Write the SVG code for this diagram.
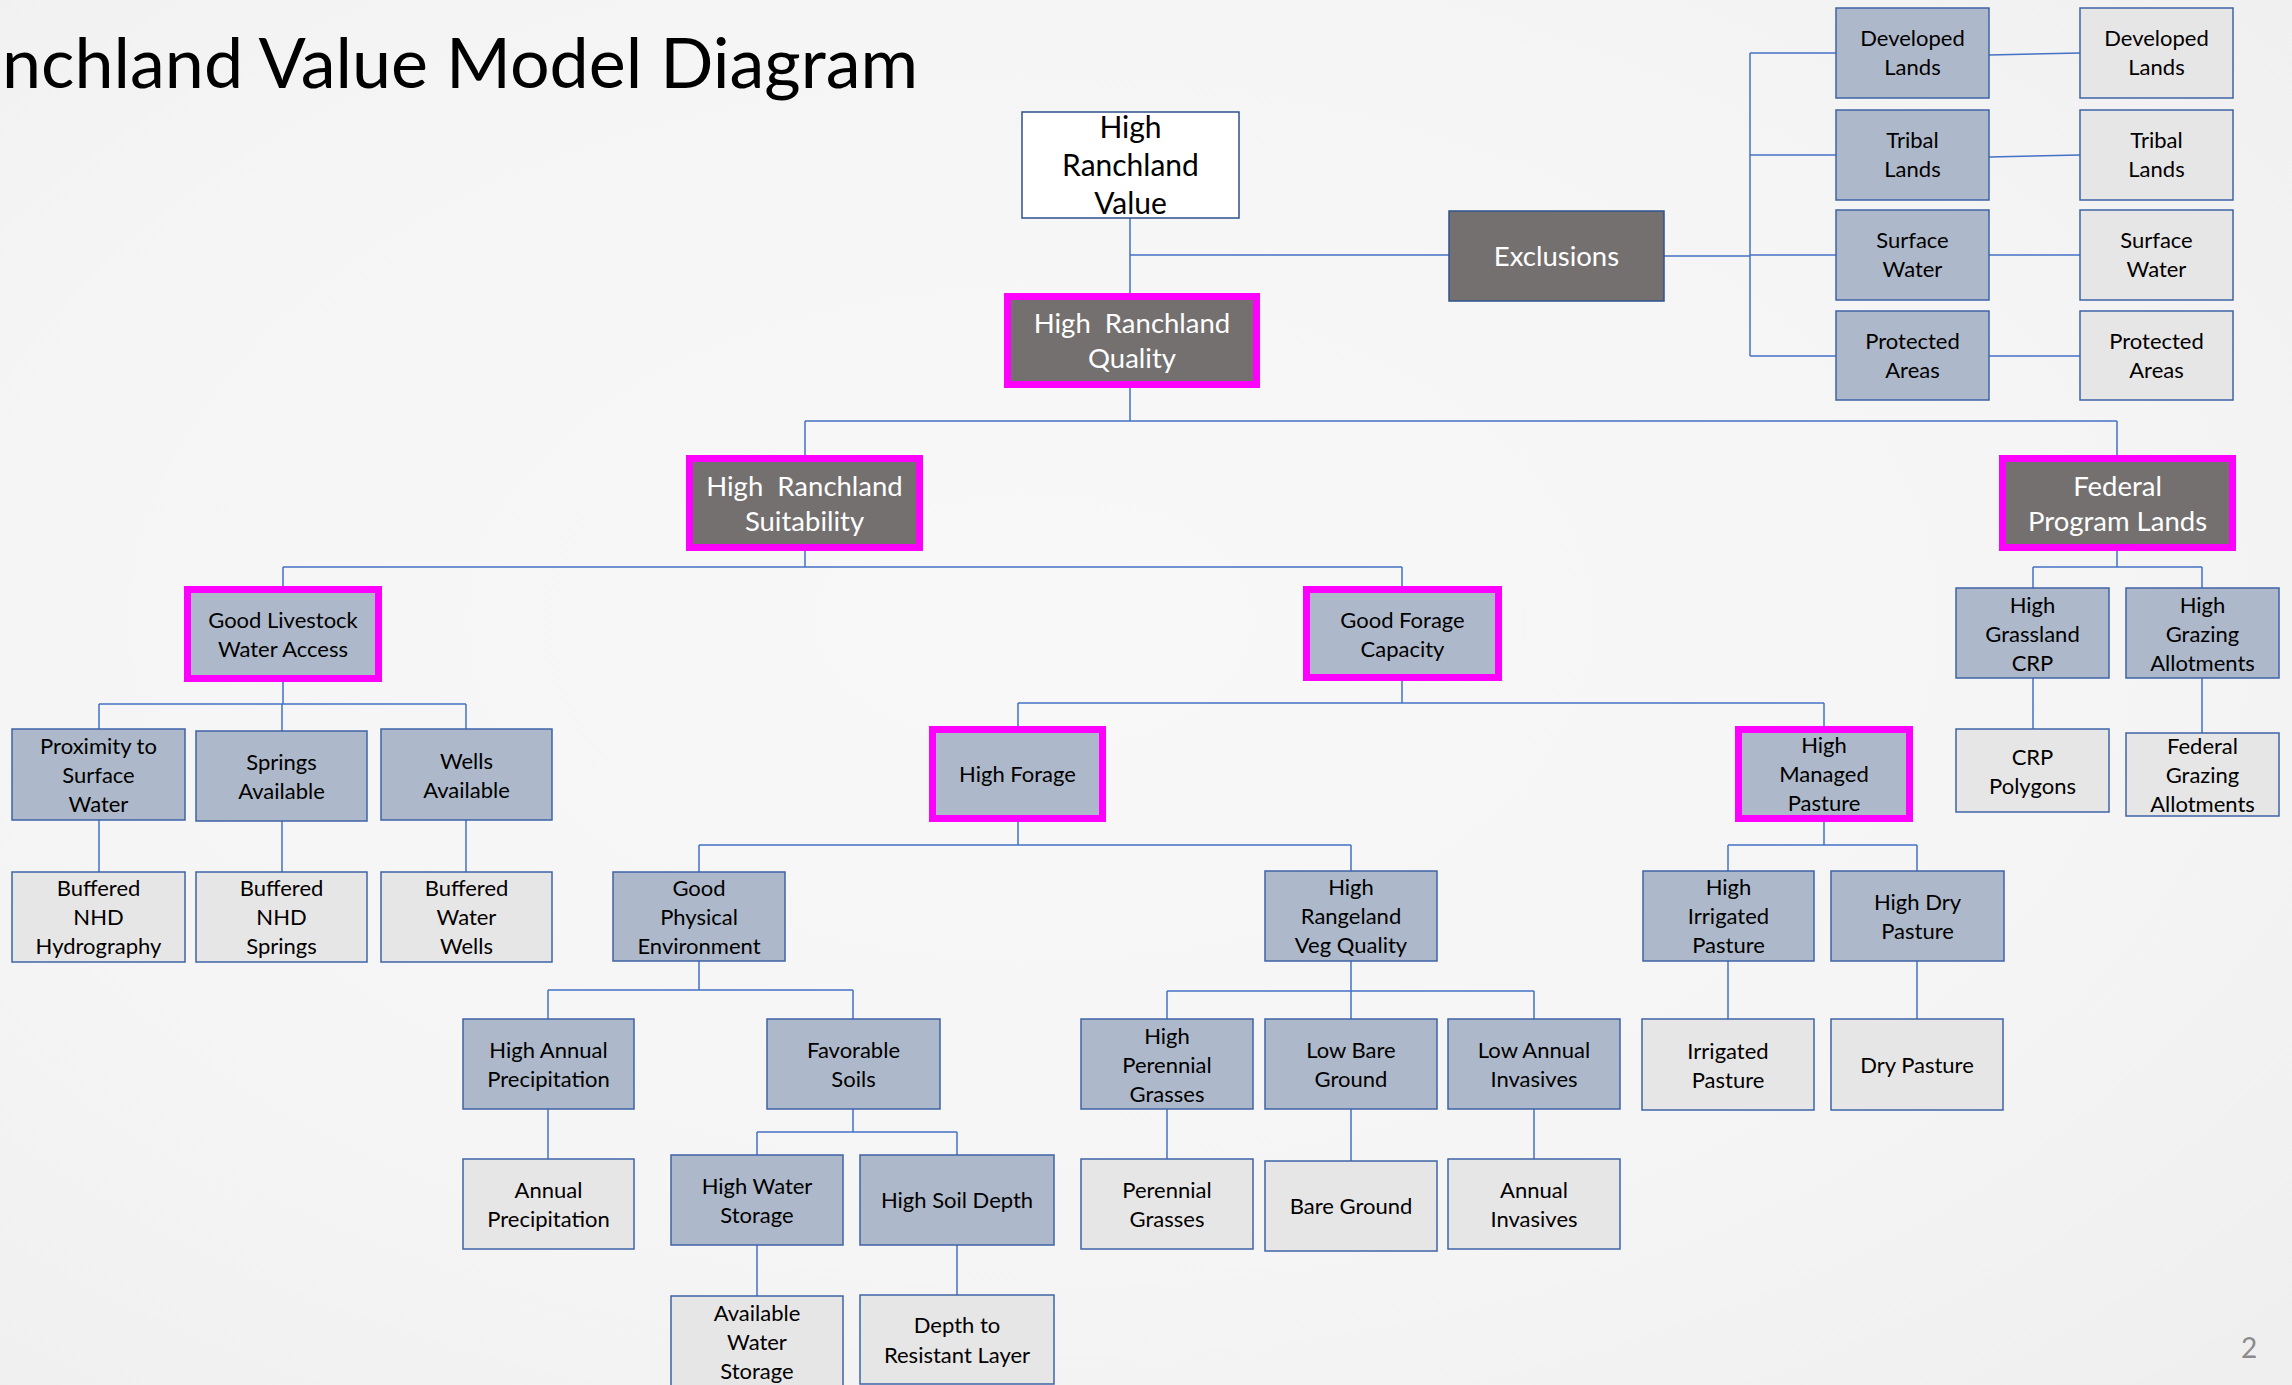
<svg xmlns="http://www.w3.org/2000/svg" width="2292" height="1385" viewBox="0 0 2292 1385">
<defs>
<radialGradient id="bg" cx="45%" cy="45%" r="75%">
<stop offset="0" stop-color="#f8f8f8"/>
<stop offset="0.6" stop-color="#f5f5f5"/>
<stop offset="1" stop-color="#efefef"/>
</radialGradient>
<style>
.b{fill:#adb9ca;stroke:#3f63a7;stroke-width:1.5}
.l{fill:#e7e6e6;stroke:#3f63a7;stroke-width:1.5}
.d{fill:#757070;stroke:#2f528f;stroke-width:1.5}
.w{fill:#ffffff;stroke:#2f528f;stroke-width:1.5}
.mb{fill:#adb9ca;stroke:#ff00ff;stroke-width:7}
.md{fill:#757070;stroke:#ff00ff;stroke-width:7}
text{font-family:Lato,"Open Sans","Liberation Sans",sans-serif;text-anchor:middle;white-space:pre}
.t{font-size:22px;fill:#000}
.tw{font-size:27.5px;fill:#ffffff}
.tv{font-size:30px;fill:#000}
.c{stroke:#4472c4;stroke-width:1.5;fill:none}
</style>
</defs>
<rect x="0" y="0" width="2292" height="1385" fill="url(#bg)"/>
<text x="918" y="88" style="font-size:70px;text-anchor:end;fill:#000">Ranchland Value Model Diagram</text>
<text x="2249" y="1358" style="font-size:28px;fill:#8b8b8b">2</text>

<g id="connectors" class="c">
<path d="M1130,218 V293 M1130,255 H1449 M1664,256 H1750 M1750,53 V356 M1750,53 H1836 M1750,155 H1836 M1750,255 H1836 M1750,356 H1836"/>
<path d="M1989,55 L2080,53 M1989,157 L2080,155 M1989,255 H2080 M1989,356 H2080"/>
<path d="M1130,388 V421 M805,421 H2117 M805,421 V455 M2117,421 V455"/>
<path d="M805,551 V567 M283,567 H1402 M283,567 V586 M1402,567 V586"/>
<path d="M283,682 V704 M99,704 H466 M99,704 V729 M282,704 V731 M466,704 V729 M99,820 V872 M282,821 V872 M466,820 V872"/>
<path d="M1402,681 V703 M1018,703 H1824 M1018,703 V726 M1824,703 V726"/>
<path d="M1018,822 V845 M699,845 H1351 M699,845 V872 M1351,845 V871"/>
<path d="M1824,822 V845 M1728,845 H1917 M1728,845 V871 M1917,845 V871 M1728,961 V1019 M1917,961 V1019"/>
<path d="M699,961 V990 M548,990 H853 M548,990 V1019 M853,990 V1019 M548,1109 V1159"/>
<path d="M853,1109 V1132 M757,1132 H957 M757,1132 V1155 M957,1132 V1155 M757,1245 V1296 M957,1245 V1295"/>
<path d="M1351,961 V991 M1167,991 H1534 M1167,991 V1019 M1351,991 V1019 M1534,991 V1019 M1167,1109 V1159 M1351,1109 V1161 M1534,1109 V1159"/>
<path d="M2117,551 V567 M2033,567 H2202 M2033,567 V588 M2202,567 V588 M2033,678 V729 M2202,678 V733"/>
</g>

<g id="n-hrv"><rect class="w" x="1022" y="112" width="217" height="106"/><text class="tv"><tspan x="1130.5" y="138">High</tspan><tspan x="1130.5" y="176">Ranchland</tspan><tspan x="1130.5" y="214">Value</tspan></text></g>
<g id="n-excl"><rect class="d" x="1449" y="211" width="215" height="90"/><text class="tw" x="1556.5" y="266">Exclusions</text></g>

<g id="n-dev1"><rect class="b" x="1836" y="8" width="153" height="90"/><text class="t"><tspan x="1912.5" y="46">Developed</tspan><tspan x="1912.5" y="75">Lands</tspan></text></g>
<g id="n-dev2"><rect class="l" x="2080" y="8" width="153" height="90"/><text class="t"><tspan x="2156.5" y="46">Developed</tspan><tspan x="2156.5" y="75">Lands</tspan></text></g>
<g id="n-tri1"><rect class="b" x="1836" y="110" width="153" height="90"/><text class="t"><tspan x="1912.5" y="148">Tribal</tspan><tspan x="1912.5" y="177">Lands</tspan></text></g>
<g id="n-tri2"><rect class="l" x="2080" y="110" width="153" height="90"/><text class="t"><tspan x="2156.5" y="148">Tribal</tspan><tspan x="2156.5" y="177">Lands</tspan></text></g>
<g id="n-sw1"><rect class="b" x="1836" y="210" width="153" height="90"/><text class="t"><tspan x="1912.5" y="248">Surface</tspan><tspan x="1912.5" y="277">Water</tspan></text></g>
<g id="n-sw2"><rect class="l" x="2080" y="210" width="153" height="90"/><text class="t"><tspan x="2156.5" y="248">Surface</tspan><tspan x="2156.5" y="277">Water</tspan></text></g>
<g id="n-pa1"><rect class="b" x="1836" y="311" width="153" height="89"/><text class="t"><tspan x="1912.5" y="348.5">Protected</tspan><tspan x="1912.5" y="377.5">Areas</tspan></text></g>
<g id="n-pa2"><rect class="l" x="2080" y="311" width="153" height="89"/><text class="t"><tspan x="2156.5" y="348.5">Protected</tspan><tspan x="2156.5" y="377.5">Areas</tspan></text></g>

<g id="n-hrq"><rect class="md" x="1007.5" y="296.5" width="249" height="88"/><text class="tw"><tspan x="1132" y="333">High  Ranchland</tspan><tspan x="1132" y="368">Quality</tspan></text></g>
<g id="n-hrs"><rect class="md" x="689.5" y="458.5" width="230" height="89"/><text class="tw"><tspan x="804.5" y="496">High  Ranchland</tspan><tspan x="804.5" y="531">Suitability</tspan></text></g>
<g id="n-fpl"><rect class="md" x="2002.5" y="458.5" width="230" height="89"/><text class="tw"><tspan x="2117.5" y="496">Federal</tspan><tspan x="2117.5" y="531">Program Lands</tspan></text></g>

<g id="n-glwa"><rect class="mb" x="187.5" y="589.5" width="191" height="89"/><text class="t"><tspan x="283" y="628">Good Livestock</tspan><tspan x="283" y="657">Water Access</tspan></text></g>
<g id="n-gfc"><rect class="mb" x="1306.5" y="589.5" width="192" height="88"/><text class="t"><tspan x="1402.5" y="627.5">Good Forage</tspan><tspan x="1402.5" y="656.5">Capacity</tspan></text></g>

<g id="n-prox"><rect class="b" x="12" y="729" width="173" height="91"/><text class="t"><tspan x="98.5" y="754">Proximity to</tspan><tspan x="98.5" y="783">Surface</tspan><tspan x="98.5" y="812">Water</tspan></text></g>
<g id="n-spr"><rect class="b" x="196" y="731" width="171" height="90"/><text class="t"><tspan x="281.5" y="770">Springs</tspan><tspan x="281.5" y="799">Available</tspan></text></g>
<g id="n-wel"><rect class="b" x="381" y="729" width="171" height="91"/><text class="t"><tspan x="466.5" y="768.5">Wells</tspan><tspan x="466.5" y="797.5">Available</tspan></text></g>
<g id="n-bnh"><rect class="l" x="12" y="872" width="173" height="90"/><text class="t"><tspan x="98.5" y="896">Buffered</tspan><tspan x="98.5" y="925">NHD</tspan><tspan x="98.5" y="954">Hydrography</tspan></text></g>
<g id="n-bns"><rect class="l" x="196" y="872" width="171" height="90"/><text class="t"><tspan x="281.5" y="896">Buffered</tspan><tspan x="281.5" y="925">NHD</tspan><tspan x="281.5" y="954">Springs</tspan></text></g>
<g id="n-bww"><rect class="l" x="381" y="872" width="171" height="90"/><text class="t"><tspan x="466.5" y="896">Buffered</tspan><tspan x="466.5" y="925">Water</tspan><tspan x="466.5" y="954">Wells</tspan></text></g>

<g id="n-hf"><rect class="mb" x="932.5" y="729.5" width="170" height="89"/><text class="t" x="1017.5" y="782">High Forage</text></g>
<g id="n-hmp"><rect class="mb" x="1738.5" y="729.5" width="171" height="89"/><text class="t"><tspan x="1824" y="753">High</tspan><tspan x="1824" y="782">Managed</tspan><tspan x="1824" y="811">Pasture</tspan></text></g>

<g id="n-hgc"><rect class="b" x="1956" y="588" width="153" height="90"/><text class="t"><tspan x="2032.5" y="612.5">High</tspan><tspan x="2032.5" y="641.5">Grassland</tspan><tspan x="2032.5" y="670.5">CRP</tspan></text></g>
<g id="n-hga"><rect class="b" x="2126" y="588" width="153" height="90"/><text class="t"><tspan x="2202.5" y="612.5">High</tspan><tspan x="2202.5" y="641.5">Grazing</tspan><tspan x="2202.5" y="670.5">Allotments</tspan></text></g>
<g id="n-crp"><rect class="l" x="1956" y="729" width="153" height="83"/><text class="t"><tspan x="2032.5" y="765">CRP</tspan><tspan x="2032.5" y="794">Polygons</tspan></text></g>
<g id="n-fga"><rect class="l" x="2126" y="733" width="153" height="83"/><text class="t"><tspan x="2202.5" y="754">Federal</tspan><tspan x="2202.5" y="783">Grazing</tspan><tspan x="2202.5" y="812">Allotments</tspan></text></g>

<g id="n-gpe"><rect class="b" x="613" y="872" width="172" height="89"/><text class="t"><tspan x="699" y="895.5">Good</tspan><tspan x="699" y="924.5">Physical</tspan><tspan x="699" y="953.5">Environment</tspan></text></g>
<g id="n-hrvq"><rect class="b" x="1265" y="871" width="172" height="90"/><text class="t"><tspan x="1351" y="895">High</tspan><tspan x="1351" y="924">Rangeland</tspan><tspan x="1351" y="953">Veg Quality</tspan></text></g>
<g id="n-hip"><rect class="b" x="1643" y="871" width="171" height="90"/><text class="t"><tspan x="1728.5" y="895">High</tspan><tspan x="1728.5" y="924">Irrigated</tspan><tspan x="1728.5" y="953">Pasture</tspan></text></g>
<g id="n-hdp"><rect class="b" x="1831" y="871" width="173" height="90"/><text class="t"><tspan x="1917.5" y="910">High Dry</tspan><tspan x="1917.5" y="939">Pasture</tspan></text></g>

<g id="n-hap"><rect class="b" x="463" y="1019" width="171" height="90"/><text class="t"><tspan x="548.5" y="1058">High Annual</tspan><tspan x="548.5" y="1087">Precipitation</tspan></text></g>
<g id="n-fs"><rect class="b" x="767" y="1019" width="173" height="90"/><text class="t"><tspan x="853.5" y="1058">Favorable</tspan><tspan x="853.5" y="1087">Soils</tspan></text></g>
<g id="n-hpg"><rect class="b" x="1081" y="1019" width="172" height="90"/><text class="t"><tspan x="1167" y="1044">High</tspan><tspan x="1167" y="1073">Perennial</tspan><tspan x="1167" y="1102">Grasses</tspan></text></g>
<g id="n-lbg"><rect class="b" x="1265" y="1019" width="172" height="90"/><text class="t"><tspan x="1351" y="1058">Low Bare</tspan><tspan x="1351" y="1087">Ground</tspan></text></g>
<g id="n-lai"><rect class="b" x="1448" y="1019" width="172" height="90"/><text class="t"><tspan x="1534" y="1058">Low Annual</tspan><tspan x="1534" y="1087">Invasives</tspan></text></g>
<g id="n-irp"><rect class="l" x="1642" y="1019" width="172" height="91"/><text class="t"><tspan x="1728" y="1058.5">Irrigated</tspan><tspan x="1728" y="1087.5">Pasture</tspan></text></g>
<g id="n-dp"><rect class="l" x="1831" y="1019" width="172" height="91"/><text class="t" x="1917" y="1073">Dry Pasture</text></g>

<g id="n-ap"><rect class="l" x="463" y="1159" width="171" height="90"/><text class="t"><tspan x="548.5" y="1198">Annual</tspan><tspan x="548.5" y="1227">Precipitation</tspan></text></g>
<g id="n-hws"><rect class="b" x="671" y="1155" width="172" height="90"/><text class="t"><tspan x="757" y="1194">High Water</tspan><tspan x="757" y="1223">Storage</tspan></text></g>
<g id="n-hsd"><rect class="b" x="860" y="1155" width="194" height="90"/><text class="t" x="957" y="1208">High Soil Depth</text></g>
<g id="n-pg"><rect class="l" x="1081" y="1159" width="172" height="90"/><text class="t"><tspan x="1167" y="1198">Perennial</tspan><tspan x="1167" y="1227">Grasses</tspan></text></g>
<g id="n-bg"><rect class="l" x="1265" y="1161" width="172" height="90"/><text class="t" x="1351" y="1214">Bare Ground</text></g>
<g id="n-ai"><rect class="l" x="1448" y="1159" width="172" height="90"/><text class="t"><tspan x="1534" y="1198">Annual</tspan><tspan x="1534" y="1227">Invasives</tspan></text></g>
<g id="n-aws"><rect class="l" x="671" y="1296" width="172" height="96"/><text class="t"><tspan x="757" y="1321">Available</tspan><tspan x="757" y="1350">Water</tspan><tspan x="757" y="1379">Storage</tspan></text></g>
<g id="n-drl"><rect class="l" x="860" y="1295" width="194" height="89"/><text class="t"><tspan x="957" y="1333">Depth to</tspan><tspan x="957" y="1363">Resistant Layer</tspan></text></g>
</svg>
